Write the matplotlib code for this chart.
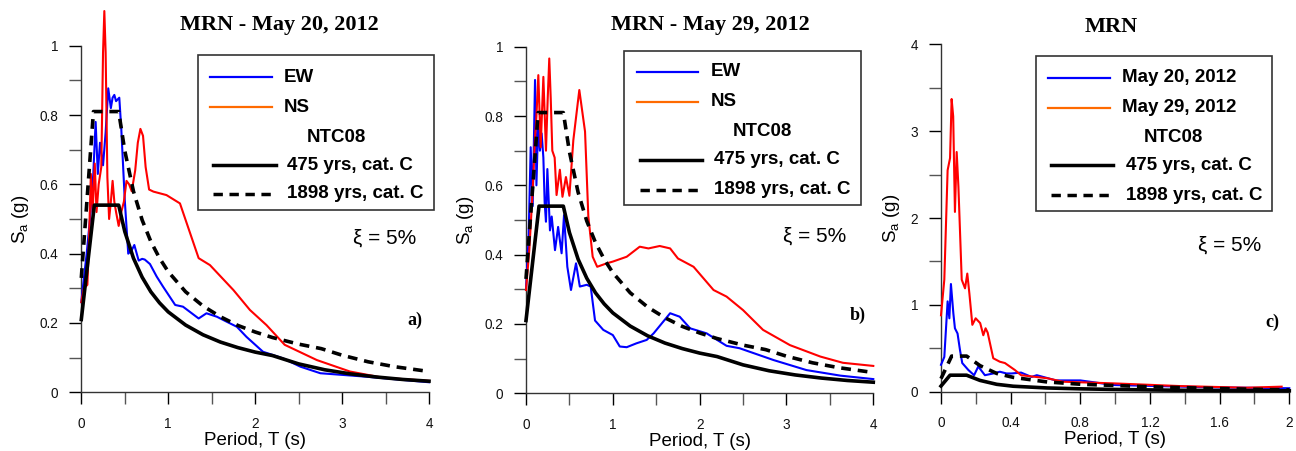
import matplotlib
matplotlib.use("Agg")
import matplotlib.pyplot as plt
from matplotlib.lines import Line2D
from matplotlib.patches import Rectangle
from matplotlib.ticker import MultipleLocator, FixedLocator, FixedFormatter

plt.rcParams['font.family'] = ['Liberation Sans', 'DejaVu Sans']
plt.rcParams['mathtext.fontset'] = 'custom'
plt.rcParams['mathtext.rm'] = 'Liberation Sans'
plt.rcParams['mathtext.it'] = 'Liberation Sans'

# ---------------- data ----------------
# NTC08 design spectra (same for panels a and b)
T_475 = [0, 0.15, 0.43, 0.5, 0.6, 0.7, 0.8, 0.9, 1.0, 1.2, 1.4, 1.6, 1.8, 2.0, 2.2, 2.5, 2.8, 3.1, 3.4, 3.7, 4.0]
Sa_475 = [0.21, 0.54, 0.54, 0.464, 0.387, 0.332, 0.29, 0.258, 0.232, 0.194, 0.166, 0.145, 0.129, 0.116, 0.106,
          0.082, 0.065, 0.053, 0.044, 0.037, 0.032]
T_1898 = [0, 0.14, 0.43, 0.5, 0.6, 0.7, 0.8, 0.9, 1.0, 1.2, 1.4, 1.6, 1.8, 2.0, 2.2, 2.5, 2.76, 3.0, 3.3, 3.6, 4.0]
Sa_1898 = [0.33, 0.81, 0.81, 0.697, 0.58, 0.497, 0.435, 0.387, 0.348, 0.29, 0.249, 0.218, 0.193, 0.174, 0.158,
           0.139, 0.126, 0.107, 0.088, 0.074, 0.06]

# Panel a: May 20, 2012
Ta_ew = [0, 0.03, 0.062, 0.10, 0.138, 0.165, 0.19, 0.215, 0.25, 0.28, 0.31, 0.34, 0.36, 0.38, 0.40, 0.437, 0.46,
         0.50, 0.54, 0.58, 0.61, 0.66, 0.70, 0.73, 0.79, 0.867, 0.94, 1.08, 1.17, 1.35, 1.44, 1.56, 1.67, 1.79,
         1.90, 2.09, 2.32, 2.52, 2.75, 3.28, 4.0]
Sa_a_ew = [0.26, 0.33, 0.40, 0.50, 0.63, 0.78, 0.63, 0.72, 0.655, 0.75, 0.877, 0.82, 0.85, 0.858, 0.84, 0.85, 0.76,
           0.555, 0.40, 0.41, 0.425, 0.38, 0.385, 0.383, 0.37, 0.334, 0.305, 0.252, 0.247, 0.213, 0.228, 0.218,
           0.204, 0.189, 0.16, 0.117, 0.098, 0.074, 0.055, 0.045, 0.029]
Ta_ns = [0, 0.03, 0.07, 0.09, 0.11, 0.13, 0.155, 0.175, 0.20, 0.23, 0.25, 0.265, 0.28, 0.30, 0.32, 0.34, 0.36,
         0.38, 0.40, 0.43, 0.46, 0.49, 0.52, 0.55, 0.58, 0.62, 0.65, 0.68, 0.71, 0.74, 0.78, 0.83, 0.98, 1.135,
         1.35, 1.48, 1.75, 1.94, 2.13, 2.34, 2.71, 3.09, 3.47, 4.0]
Sa_a_ns = [0.26, 0.30, 0.31, 0.45, 0.63, 0.52, 0.66, 0.52, 0.60, 0.65, 0.98, 1.10, 0.98, 0.62, 0.50, 0.55, 0.61,
           0.55, 0.52, 0.48, 0.52, 0.55, 0.61, 0.60, 0.58, 0.64, 0.72, 0.76, 0.74, 0.65, 0.585, 0.579, 0.569,
           0.545, 0.387, 0.367, 0.295, 0.2375, 0.194, 0.137, 0.093, 0.06, 0.042, 0.033]

# Panel b: May 29, 2012
Tb_ew = [0, 0.03, 0.054, 0.077, 0.104, 0.12, 0.14, 0.16, 0.18, 0.20, 0.215, 0.23, 0.246, 0.276, 0.296, 0.334,
         0.37, 0.41, 0.438, 0.476, 0.518, 0.576, 0.62, 0.70, 0.745, 0.795, 0.89, 1.0, 1.08, 1.16, 1.27, 1.39,
         1.47, 1.66, 1.77, 1.89, 2.08, 2.31, 2.46, 2.85, 3.23, 3.62, 4.0]
Sa_b_ew = [0.30, 0.45, 0.71, 0.54, 0.904, 0.60, 0.78, 0.70, 0.75, 0.68, 0.55, 0.495, 0.647, 0.47, 0.51, 0.413,
           0.48, 0.404, 0.514, 0.365, 0.298, 0.375, 0.308, 0.313, 0.308, 0.21, 0.183, 0.168, 0.135, 0.133, 0.144,
           0.154, 0.173, 0.231, 0.221, 0.1875, 0.173, 0.137, 0.13, 0.096, 0.067, 0.051, 0.041]
Tb_ns = [0, 0.038, 0.077, 0.10, 0.12, 0.142, 0.169, 0.20, 0.23, 0.25, 0.268, 0.285, 0.303, 0.33, 0.352, 0.39,
         0.42, 0.46, 0.50, 0.545, 0.614, 0.68, 0.718, 0.768, 0.82, 0.93, 1.0, 1.16, 1.31, 1.41, 1.54, 1.66, 1.75,
         1.93, 2.16, 2.31, 2.5, 2.73, 3.04, 3.39, 3.65, 4.0]
Sa_b_ns = [0.298, 0.413, 0.587, 0.72, 0.80, 0.918, 0.71, 0.913, 0.70, 0.85, 0.966, 0.85, 0.70, 0.68, 0.572, 0.645,
           0.567, 0.624, 0.57, 0.73, 0.875, 0.755, 0.51, 0.394, 0.365, 0.375, 0.38, 0.394, 0.423, 0.418, 0.425,
           0.418, 0.389, 0.365, 0.298, 0.279, 0.24, 0.183, 0.139, 0.106, 0.088, 0.079]

# Panel c: MRN
Tc_20 = [0, 0.019, 0.038, 0.048, 0.057, 0.071, 0.08, 0.095, 0.109, 0.122, 0.157, 0.19, 0.214, 0.252, 0.30, 0.338,
         0.376, 0.405, 0.46, 0.52, 0.55, 0.66, 0.8, 0.99, 1.56, 2.0]
Sa_c_20 = [0.31, 0.40, 1.04, 0.845, 1.24, 0.90, 0.73, 0.67, 0.48, 0.33, 0.25, 0.19, 0.29, 0.19, 0.21, 0.23, 0.21,
           0.21, 0.22, 0.17, 0.19, 0.13, 0.13, 0.077, 0.05, 0.04]
Tc_29 = [0, 0.019, 0.038, 0.052, 0.061, 0.07, 0.08, 0.09, 0.10, 0.119, 0.138, 0.151, 0.163, 0.18, 0.199, 0.225,
         0.243, 0.256, 0.268, 0.30, 0.338, 0.367, 0.424, 0.46, 0.61, 0.70, 0.99, 1.37, 1.755, 1.956]
Sa_c_29 = [0.88, 1.29, 2.55, 2.69, 3.37, 3.17, 2.07, 2.76, 2.36, 1.29, 1.19, 1.36, 1.13, 0.77, 0.845, 0.79, 0.65,
           0.73, 0.68, 0.385, 0.345, 0.33, 0.25, 0.19, 0.155, 0.115, 0.096, 0.065, 0.046, 0.058]
Tc_475 = [0, 0.052, 0.147, 0.224, 0.32, 0.415, 0.61, 0.8, 0.99, 1.3, 1.56, 2.0]
Sa_c_475 = [0.065, 0.19, 0.19, 0.13, 0.085, 0.063, 0.043, 0.033, 0.026, 0.018, 0.014, 0.01]
Tc_1898 = [0, 0.061, 0.147, 0.224, 0.32, 0.415, 0.61, 0.8, 1.18, 1.56, 2.0]
Sa_c_1898 = [0.15, 0.41, 0.41, 0.30, 0.21, 0.165, 0.112, 0.086, 0.058, 0.038, 0.02]

titles = ["MRN - May 20, 2012", "MRN - May 29, 2012", "MRN"]
panel_tags = ["a)", "b)", "c)"]
legend_ab = ["EW", "NS", "NTC08", "475 yrs, cat. C", "1898 yrs, cat. C"]
legend_c = ["May 20, 2012", "May 29, 2012", "NTC08", "475 yrs, cat. C", "1898 yrs, cat. C"]
yt_ab = [0, 0.2, 0.4, 0.6, 0.8, 1.0]
ytl_ab = ["0", "0.2", "0.4", "0.6", "0.8", "1"]
xt_ab = [0, 1, 2, 3, 4]
xtl_ab = ["0", "1", "2", "3", "4"]
yt_c = [0, 1, 2, 3, 4]
ytl_c = ["0", "1", "2", "3", "4"]
xt_c = [0, 0.4, 0.8, 1.2, 1.6, 2.0]
xtl_c = ["0", "0.4", "0.8", "1.2", "1.6", "2"]

# ---------------- figure ----------------
W, H = 1296, 451
fig = plt.figure(figsize=(W / 100, H / 100), dpi=100)

BLUE = "#0000FF"
RED = "#FF0000"
ORANGE = "#FF6A00"
DASH = (2.7, 1.9)
SPINE = "#333333"


def fx(x):
    return x / W


def fy(y):
    return 1 - y / H


def make_axes(l, r, t, b):
    return fig.add_axes([fx(l), fy(b), fx(r) - fx(l), fy(t) - fy(b)])


def style(ax, xlim, ylim, xt, xtl, xminor, yt, ytl, yminor):
    ax.set_xlim(*xlim)
    ax.set_ylim(*ylim)
    for s in ["top", "right"]:
        ax.spines[s].set_visible(False)
    for s in ["left", "bottom"]:
        ax.spines[s].set_linewidth(1.0)
        ax.spines[s].set_color(SPINE)
    ax.xaxis.set_major_locator(FixedLocator(xt))
    ax.xaxis.set_major_formatter(FixedFormatter(xtl))
    ax.yaxis.set_major_locator(FixedLocator(yt))
    ax.yaxis.set_major_formatter(FixedFormatter(ytl))
    ax.xaxis.set_minor_locator(MultipleLocator(xminor))
    ax.yaxis.set_minor_locator(MultipleLocator(yminor))
    ax.tick_params(axis="both", which="major", direction="out", length=8.5, width=1.0,
                   labelsize=9.8, color="black", labelcolor="#111111")
    ax.tick_params(axis="both", which="minor", direction="out", length=8.5, width=1.0, color="#555555")
    ax.tick_params(axis="x", which="major", pad=9)
    ax.tick_params(axis="y", which="major", pad=8)
    ax.set_xlabel("Period, T (s)", fontsize=13.5, labelpad=1)
    ax.set_ylabel(r"S$_\mathrm{a}$ (g)", fontsize=13.5, labelpad=6)


def legend_box(box, rows, htext, hx_col, hx_ntc, labels, ntc_x):
    x0, x1, y0, y1 = box
    fig.add_artist(Rectangle((fx(x0), fy(y1)), fx(x1) - fx(x0), fy(y0) - fy(y1),
                             transform=fig.transFigure, fill=False, edgecolor="#333333", lw=1.2))
    specs = [(BLUE, "-", 1.6), (ORANGE, "-", 1.6), None, ("black", "-", 2.5), ("black", "--", 2.5)]
    for i, (lab, yy) in enumerate(zip(labels, rows)):
        sp = specs[i]
        if sp is None:
            fig.text(fx(ntc_x), fy(yy), lab, fontsize=13.5, fontweight="bold", ha="left", va="center")
            continue
        col, ls, lw = sp
        hx = hx_col if i < 2 else hx_ntc
        ln = Line2D([fx(hx[0]), fx(hx[1])], [fy(yy), fy(yy)], transform=fig.transFigure,
                    color=col, lw=lw, ls=ls)
        if ls == "--":
            ln.set_dashes(DASH)
        fig.add_artist(ln)
        fig.text(fx(htext[0] if i < 2 else htext[1]), fy(yy), lab, fontsize=13.5, fontweight="bold",
                 ha="left", va="center")


def draw_lines(ax, data_lines, ntc_lines):
    for T, S, c in data_lines:
        ax.plot(T, S, color=c, lw=1.5, clip_on=False, zorder=3)
    (T1, S1), (T2, S2) = ntc_lines
    ax.plot(T1, S1, color="black", lw=2.6, clip_on=False, zorder=4)
    l, = ax.plot(T2, S2, color="black", lw=2.6, ls="--", clip_on=False, zorder=4)
    l.set_dashes(DASH)


# Panel a
axa = make_axes(81.3, 429.0, 45.7, 392.3)
style(axa, (0, 4), (0, 1), xt_ab, xtl_ab, 0.5, yt_ab, ytl_ab, 0.1)
draw_lines(axa, [(Ta_ew, Sa_a_ew, BLUE), (Ta_ns, Sa_a_ns, RED)], [(T_475, Sa_475), (T_1898, Sa_1898)])

# Panel b
axb = make_axes(526.0, 873.3, 46.7, 393.3)
style(axb, (0, 4), (0, 1), xt_ab, xtl_ab, 0.5, yt_ab, ytl_ab, 0.1)
draw_lines(axb, [(Tb_ew, Sa_b_ew, BLUE), (Tb_ns, Sa_b_ns, RED)], [(T_475, Sa_475), (T_1898, Sa_1898)])

# Panel c
axc = make_axes(941.0, 1289.3, 44.3, 391.7)
style(axc, (0, 2), (0, 4), xt_c, xtl_c, 0.2, yt_c, ytl_c, 0.5)
draw_lines(axc, [(Tc_20, Sa_c_20, BLUE), (Tc_29, Sa_c_29, RED)], [(Tc_475, Sa_c_475), (Tc_1898, Sa_c_1898)])

# titles
for x, y, t in [(279, 25, titles[0]), (710, 25, titles[1]), (1111, 27, titles[2])]:
    fig.text(fx(x), fy(y), t, fontsize=16, fontweight="bold", family="Liberation Serif",
             ha="center", va="center")

# legends
legend_box((198, 434, 55, 210), [77, 107, 137, 165, 194], (284, 287), (210, 272), (213, 276), legend_ab, 307)
legend_box((624, 861, 51, 205), [72, 102, 131, 160, 190], (711, 714), (637, 698), (640, 702), legend_ab, 733)
legend_box((1036, 1272, 56, 211), [78, 108, 138, 165, 195], (1122, 1126), (1048, 1110), (1051, 1113), legend_c, 1144)

# damping annotation and panel tags
for x, y in [(385, 238), (815, 236), (1230, 245)]:
    fig.text(fx(x), fy(y), "ξ = 5%", fontsize=15, ha="center", va="center")
for x, y, t in [(415, 320, panel_tags[0]), (858, 315, panel_tags[1]), (1272, 322, panel_tags[2])]:
    fig.text(fx(x), fy(y), t, fontsize=13, fontweight="bold", family="Liberation Serif",
             ha="center", va="center")

fig.savefig("out.png", dpi=100)
